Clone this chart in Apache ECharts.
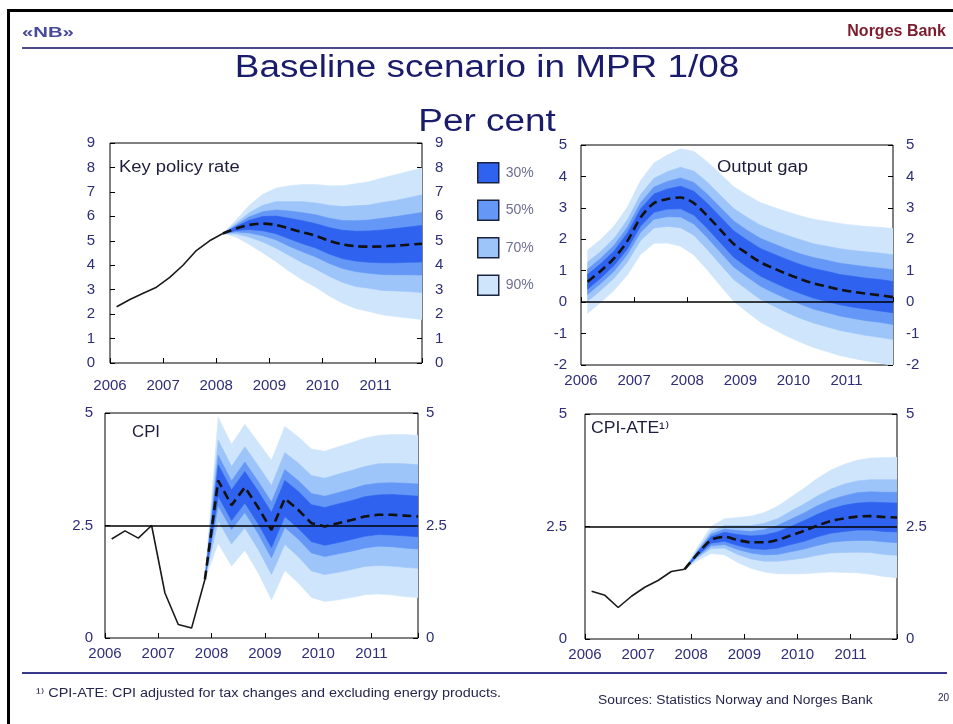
<!DOCTYPE html>
<html><head><meta charset="utf-8">
<script src="https://cdn.jsdelivr.net/npm/echarts@6/dist/echarts.min.js"></script>
<style>html,body{margin:0;padding:0;background:#fff;}#chart{width:953px;height:724px;}</style>
</head><body><div id="chart"></div>
<script>
// ---------- DATA ----------
const quarters = ['2006Q1','2006Q2','2006Q3','2006Q4','2007Q1','2007Q2','2007Q3','2007Q4',
  '2008Q1','2008Q2','2008Q3','2008Q4','2009Q1','2009Q2','2009Q3','2009Q4',
  '2010Q1','2010Q2','2010Q3','2010Q4','2011Q1','2011Q2','2011Q3','2011Q4'];
const yearLabels = ['2006','2007','2008','2009','2010','2011'];
const bandNames = ['90%','70%','50%','30%'];
const legendNames = ['30%','50%','70%','90%'];

// Key policy rate: history 2006Q1-2008Q1, projection 2008Q1-2011Q4
const kprHistory = [2.3, 2.6, 2.85, 3.1, 3.5, 4.0, 4.6, 5.0, 5.3];
const kprMedian  = [5.3, 5.5, 5.65, 5.7, 5.65, 5.5, 5.35, 5.2, 5.0, 4.85, 4.78, 4.76, 4.77, 4.8, 4.84, 4.88];
const kprHw90 = [0, 0.35, 0.8, 1.2, 1.5, 1.75, 1.95, 2.1, 2.25, 2.4, 2.55, 2.65, 2.8, 2.9, 3.0, 3.1];
const kprHw70 = [0, 0.22, 0.5, 0.75, 0.95, 1.1, 1.25, 1.35, 1.45, 1.55, 1.65, 1.7, 1.8, 1.85, 1.92, 2.0];
const kprHw50 = [0, 0.14, 0.33, 0.49, 0.61, 0.72, 0.8, 0.86, 0.92, 0.98, 1.04, 1.09, 1.15, 1.19, 1.23, 1.28];
const kprHw30 = [0, 0.08, 0.19, 0.29, 0.36, 0.42, 0.47, 0.5, 0.54, 0.58, 0.61, 0.64, 0.67, 0.7, 0.72, 0.75];

// Output gap: 2006Q1-2011Q4
const ogMedian = [0.65, 1.0, 1.4, 1.95, 2.7, 3.15, 3.28, 3.33, 3.15, 2.75, 2.3, 1.85, 1.55, 1.27, 1.08, 0.9, 0.74, 0.6, 0.5, 0.4, 0.33, 0.27, 0.22, 0.16];
const ogHw90 = [1.0, 1.0, 1.02, 1.08, 1.18, 1.28, 1.4, 1.55, 1.65, 1.72, 1.78, 1.82, 1.86, 1.9, 1.94, 1.98, 2.01, 2.04, 2.07, 2.1, 2.12, 2.14, 2.16, 2.18];
const ogHw70 = [0.62, 0.62, 0.63, 0.67, 0.73, 0.79, 0.87, 0.96, 1.02, 1.07, 1.1, 1.13, 1.15, 1.18, 1.2, 1.23, 1.25, 1.26, 1.28, 1.3, 1.31, 1.33, 1.34, 1.35];
const ogHw50 = [0.4, 0.4, 0.41, 0.43, 0.47, 0.51, 0.56, 0.62, 0.66, 0.69, 0.71, 0.73, 0.74, 0.76, 0.78, 0.79, 0.8, 0.82, 0.83, 0.84, 0.85, 0.86, 0.86, 0.87];
const ogHw30 = [0.23, 0.23, 0.23, 0.25, 0.27, 0.29, 0.32, 0.36, 0.38, 0.4, 0.41, 0.42, 0.43, 0.44, 0.45, 0.46, 0.46, 0.47, 0.48, 0.48, 0.49, 0.49, 0.5, 0.5];

// CPI: history 2006Q1-2007Q4, projection 2007Q4-2011Q4
const cpiHistory = [2.2, 2.38, 2.22, 2.5, 1.0, 0.3, 0.22, 1.3];
const cpiMedian  = [1.3, 3.5, 2.95, 3.35, 2.9, 2.4, 3.1, 2.85, 2.55, 2.48, 2.55, 2.62, 2.7, 2.74, 2.74, 2.72, 2.7];
const cpiHw90 = [0, 1.4, 1.35, 1.4, 1.45, 1.55, 1.6, 1.62, 1.65, 1.67, 1.7, 1.72, 1.74, 1.76, 1.78, 1.8, 1.8];
const cpiHw70 = [0, 0.9, 0.86, 0.9, 0.93, 0.99, 1.02, 1.04, 1.06, 1.07, 1.09, 1.1, 1.11, 1.13, 1.14, 1.15, 1.15];
const cpiHw50 = [0, 0.56, 0.54, 0.56, 0.58, 0.62, 0.64, 0.65, 0.66, 0.67, 0.68, 0.69, 0.7, 0.7, 0.71, 0.72, 0.72];
const cpiHw30 = [0, 0.35, 0.34, 0.35, 0.36, 0.39, 0.4, 0.41, 0.41, 0.42, 0.43, 0.43, 0.44, 0.44, 0.45, 0.45, 0.45];

// CPI-ATE: history 2006Q1-2007Q4, projection 2007Q4-2011Q4
const ateHistory = [1.06, 0.97, 0.7, 0.95, 1.15, 1.3, 1.5, 1.55];
const ateMedian  = [1.55, 1.9, 2.2, 2.27, 2.2, 2.15, 2.15, 2.2, 2.3, 2.4, 2.52, 2.62, 2.68, 2.72, 2.73, 2.71, 2.7];
const ateHw90 = [0, 0.15, 0.3, 0.4, 0.5, 0.58, 0.66, 0.75, 0.85, 0.95, 1.05, 1.13, 1.2, 1.25, 1.29, 1.32, 1.34];
const ateHw70 = [0, 0.09, 0.19, 0.25, 0.32, 0.37, 0.42, 0.47, 0.54, 0.6, 0.66, 0.71, 0.76, 0.79, 0.81, 0.83, 0.84];
const ateHw50 = [0, 0.06, 0.13, 0.17, 0.21, 0.24, 0.28, 0.32, 0.36, 0.4, 0.44, 0.47, 0.5, 0.53, 0.54, 0.55, 0.56];
const ateHw30 = [0, 0.04, 0.07, 0.1, 0.12, 0.14, 0.16, 0.18, 0.2, 0.23, 0.25, 0.27, 0.29, 0.3, 0.31, 0.32, 0.32];

// ---------- STYLE / LAYOUT ----------
const FONT = '"Liberation Sans", Arial, "DejaVu Sans", sans-serif';
const bandColors = {'90%':'#cfe5fc','70%':'#9dc5fa','50%':'#6497f6','30%':'#2f63ef'};
const tickColor = '#2d2d78';

function qPos(q){ const y = +q.slice(0,4), n = +q.slice(5); return y + (n - 0.5) / 4; }

const panels = [
  {grid:{left:110, top:143, width:312, height:220}, y:{min:0,max:9,interval:1},
   hist:kprHistory, histStart:0, med:kprMedian, medStart:8, smooth:0.3, ref:null,
   hw:{'90%':kprHw90,'70%':kprHw70,'50%':kprHw50,'30%':kprHw30}, xm:15, ylm:15, yrm:13},
  {grid:{left:581, top:145, width:312, height:220}, y:{min:-2,max:5,interval:1},
   hist:null, histStart:0, med:ogMedian, medStart:0, smooth:0.3, ref:0,
   hw:{'90%':ogHw90,'70%':ogHw70,'50%':ogHw50,'30%':ogHw30}, xm:8, ylm:14, yrm:13},
  {grid:{left:105, top:413, width:313, height:225}, y:{min:0,max:5,interval:2.5},
   hist:cpiHistory, histStart:0, med:cpiMedian, medStart:7, smooth:false, ref:2.5,
   hw:{'90%':cpiHw90,'70%':cpiHw70,'50%':cpiHw50,'30%':cpiHw30}, xm:8, ylm:12, yrm:8},
  {grid:{left:585, top:414, width:312, height:225}, y:{min:0,max:5,interval:2.5},
   hist:ateHistory, histStart:0, med:ateMedian, medStart:7, smooth:0.3, ref:2.5,
   hw:{'90%':ateHw90,'70%':ateHw70,'50%':ateHw50,'30%':ateHw30}, xm:8, ylm:18, yrm:9}
];

const grids = [], xAxes = [], yAxes = [], series = [];
panels.forEach((p, pi) => {
  grids.push(Object.assign({show:true, borderColor:'#000', borderWidth:1, backgroundColor:'transparent'}, p.grid));
  xAxes.push({type:'value', gridIndex:pi, min:2006, max:2011.875, interval:1,
    axisLine:{show:false}, splitLine:{show:false},
    axisTick:{inside:true, length:5, lineStyle:{color:'#000'}},
    axisLabel:{margin:p.xm, color:tickColor, fontSize:15, fontFamily:FONT,
      formatter:v => { const i = yearLabels.indexOf(String(v)); return i >= 0 ? yearLabels[i] : ''; }}});
  ['left','right'].forEach(pos => {
    yAxes.push({type:'value', gridIndex:pi, position:pos, min:p.y.min, max:p.y.max, interval:p.y.interval,
      axisLine:{show:false}, splitLine:{show:false},
      axisTick:{show:true, inside:true, length:5, lineStyle:{color:'#000'}},
      axisLabel:{margin: pos === 'left' ? p.ylm : p.yrm, color:tickColor, fontSize:15, fontFamily:FONT}});
  });
  const xs = quarters.slice(p.medStart, p.medStart + p.med.length).map(qPos);
  bandNames.forEach(name => {
    const hw = p.hw[name], med = p.med, col = bandColors[name];
    series.push({type:'custom', name, xAxisIndex:pi, yAxisIndex:2*pi, clip:true, silent:true,
      itemStyle:{color:col}, data:[[xs[0], med[0]]],
      renderItem:(params, api) => {
        const up = xs.map((x,i) => api.coord([x, med[i] + hw[i]]));
        const lo = xs.map((x,i) => api.coord([x, med[i] - hw[i]])).reverse();
        return {type:'polygon', shape:{points: up.concat(lo)}, style:{fill:col, stroke:col, lineWidth:0.6}};
      }});
  });
  if (p.hist) {
    const hx = quarters.slice(p.histStart, p.histStart + p.hist.length).map(qPos);
    series.push({type:'line', name:'hist'+pi, xAxisIndex:pi, yAxisIndex:2*pi, symbol:'none', silent:true,
      data: hx.map((x,i) => [x, p.hist[i]]), lineStyle:{color:'#1a1a1a', width:1.6}, z:4});
  }
  const med = {type:'line', name:'median'+pi, xAxisIndex:pi, yAxisIndex:2*pi, symbol:'none', silent:true,
    smooth:p.smooth, data: xs.map((x,i) => [x, p.med[i]]),
    lineStyle:{color:'#111', width:2.6, type:[9,5]}, z:5};
  if (p.ref !== null) {
    med.markLine = {silent:true, symbol:['none','none'], label:{show:false},
      lineStyle:{color:'#000', type:'solid', width:1.5}, data:[{yAxis:p.ref}]};
  }
  series.push(med);
});

function txt(x, y, text, size, color, align, extra, weight) {
  return Object.assign({type:'text', x, y, silent:true,
    style:{text, fontSize:size, fontFamily:FONT, fill:color, fontWeight:weight||'normal',
      textAlign:align||'left', align:align||'left', textVerticalAlign:'middle', verticalAlign:'middle'}}, extra||{});
}

const graphic = [
  {type:'rect', shape:{x:8.5, y:10.5, width:1000, height:800}, style:{fill:'none', stroke:'#000', lineWidth:3}, silent:true},
  {type:'line', shape:{x1:22, y1:48, x2:953, y2:48}, style:{stroke:'#4b4b8c', lineWidth:2}, silent:true},
  {type:'line', shape:{x1:22, y1:673, x2:947, y2:673}, style:{stroke:'#38388a', lineWidth:2}, silent:true},
  txt(22, 33, '«NB»', 14, '#4a4a9a', 'left', {scaleX:1.45}, 'bold'),
  txt(946, 32, 'Norges Bank', 16, '#7b1c2c', 'right', {scaleX:1.0}, 'bold'),
  txt(487, 68, 'Baseline scenario in MPR 1/08', 31, '#1b1b6b', 'center', {scaleX:1.19}),
  txt(487, 122, 'Per cent', 31, '#1b1b6b', 'center', {scaleX:1.19}),
  txt(119, 168, 'Key policy rate', 16, '#1e1e3c', 'left', {scaleX:1.15}),
  txt(717, 168, 'Output gap', 16, '#1e1e3c', 'left', {scaleX:1.15}),
  txt(132, 433, 'CPI', 16, '#1e1e3c', 'left', {scaleX:1.05}),
  txt(591, 429, 'CPI-ATE¹⁾', 16, '#1e1e3c', 'left', {scaleX:1.1}),
  txt(36, 694, '¹⁾ CPI-ATE: CPI adjusted for tax changes and excluding energy products.', 12, '#26264e', 'left', {scaleX:1.2}),
  txt(598, 701, 'Sources: Statistics Norway and Norges Bank', 12, '#26264e', 'left', {scaleX:1.15}),
  txt(938, 698, '20', 10, '#26264e', 'left')
];

const chart = echarts.init(document.getElementById('chart'), null, {renderer:'canvas'});
chart.setOption({
  animation:false,
  backgroundColor:'#fff',
  textStyle:{fontFamily:FONT},
  grid:grids, xAxis:xAxes, yAxis:yAxes, series,
  legend:{show:true, selectedMode:false, orient:'vertical', left:472, top:157,
    itemWidth:21, itemHeight:20, itemGap:16,
    textStyle:{fontSize:14, color:'#6e6e92', fontFamily:FONT, padding:[0,0,0,2]},
    data: legendNames.map(n => ({name:n, icon:'rect',
      itemStyle:{color:bandColors[n], borderColor:'#1c2340', borderWidth:1.5}}))},
  graphic
});
</script></body></html>
